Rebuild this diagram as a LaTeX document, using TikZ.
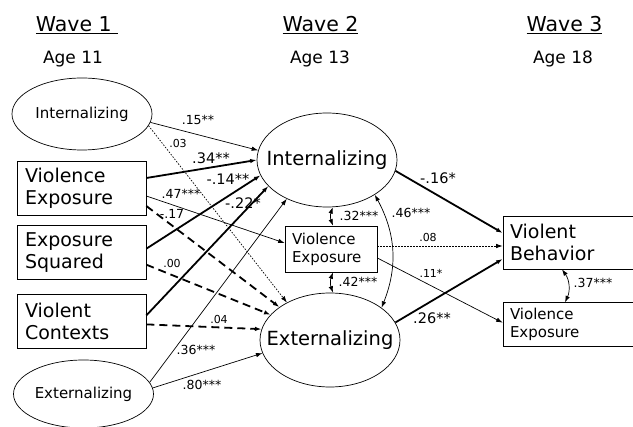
\documentclass[tikz,border=0pt]{standalone}
\usepackage{fontspec}
\setmainfont{DejaVu Sans}
\usetikzlibrary{shapes.geometric, positioning, arrows.meta}

\begin{document}
\begin{tikzpicture}[
      x=1pt, y=-1pt,
      >={Latex[length=6.5pt,width=4.5pt]},
      latent/.style={draw, ellipse, line width=0.7pt, inner ysep=0pt, inner xsep=-16pt, minimum width=140pt},
      observed/.style={draw, rectangle, line width=0.7pt, align=left, inner xsep=7pt, inner ysep=0pt},
      bigtext/.style={font=\fontsize{19}{22}\selectfont},
      smalltext/.style={font=\fontsize{15}{18}\selectfont},
      thinpath/.style={->, line width=0.7pt},
      thickpath/.style={->, line width=1.8pt},
      dashpath/.style={->, line width=1.8pt, dash pattern=on 8pt off 5pt},
      dotpath/.style={->, line width=0.7pt, dash pattern=on 1.5pt off 1.5pt},
      corr/.style={<->, line width=0.7pt},
      coef/.style={font=\fontsize{12.5}{14}\selectfont, inner sep=1pt},
      coefbig/.style={font=\fontsize{14.5}{16}\selectfont, inner sep=1pt},
      coefsmall/.style={font=\fontsize{11}{13}\selectfont, inner sep=1pt},
      wave/.style={font=\fontsize{20.5}{24}\selectfont, anchor=base},
      age/.style={font=\fontsize{17}{20}\selectfont, anchor=base}
    ]
      \path[use as bounding box, fill=white] (0,0) rectangle (633,427);
      \clip (0,0) rectangle (633,427);

      \node[wave] (wave1) at (77,32) {\underline{Wave 1\ }};
      \node[wave] (wave2) at (320.5,32) {\underline{Wave 2}};
      \node[wave] (wave3) at (564.5,32) {\underline{Wave 3}};
      \node[age] (age1) at (73,64) {Age 11};
      \node[age] (age2) at (320,64) {Age 13};
      \node[age] (age3) at (563,64) {Age 18};

      \node[latent, minimum height=72pt, smalltext] (int1) at (82,114) {Internalizing};
      \node[observed, bigtext, text width=113pt, inner xsep=8pt, minimum height=54pt] (ve1) at (81.5,188) {Violence\\Exposure};
      \node[observed, bigtext, text width=113pt, inner xsep=8pt, minimum height=54pt, below=10pt of ve1] (es1) {Exposure\\Squared};
      \node[observed, bigtext, text width=113pt, inner xsep=8pt, minimum height=54pt, below=14pt of es1] (vc1) {Violent\\Contexts};
      \node[latent, minimum height=68pt, smalltext] (ext1) at (83.5,394) {Externalizing};

      \node[latent, minimum height=94pt, font=\fontsize{19.5}{22}\selectfont] (int2) at (327,160) {Internalizing};
      \node[observed, smalltext, text width=78pt, minimum height=46pt] (ve2) at (331,249) {Violence\\Exposure};
      \node[latent, minimum height=94pt, font=\fontsize{19.5}{22}\selectfont] (ext2) at (330,340) {Externalizing};

      \node[observed, bigtext, text width=126pt, minimum height=53pt] (vb) at (573,242.5) {Violent\\Behavior};
      \node[observed, smalltext, text width=126pt, minimum height=44pt, below=33pt of vb] (ve3) {Violence\\Exposure};

      \draw[thinpath] (int1.-7) -- (int2.172);
      \draw[dotpath] (int1.-10) -- (ext2.139);
      \draw[thickpath] ([yshift=10pt]ve1.east) -- (int2.west);
      \draw[thinpath] ([yshift=-8pt]ve1.east) -- ([yshift=6pt]ve2.west);
      \draw[dashpath] ([yshift=-18pt]ve1.east) -- (ext2.147);
      \draw[thickpath] ([yshift=4pt]es1.east) -- (int2.193);
      \draw[dashpath] ([yshift=-12pt]es1.east) -- (ext2.157);
      \draw[thickpath] ([yshift=6pt]vc1.east) -- (int2.204);
      \draw[dashpath] ([yshift=-3pt]vc1.east) -- (ext2.171);
      \draw[thinpath] (ext1.10) -- (int2.224);
      \draw[thinpath] (ext1.5) -- (ext2.191);

      \draw[corr] (int2.-83) to[bend right=20] ([xshift=2pt]ve2.north);
      \draw[corr] ([xshift=2pt]ve2.south) to[bend right=20] ([xshift=3pt]ext2.north);
      \draw[corr] (int2.-36) to[bend left=25] (ext2.32);

      \draw[thickpath] (int2.-9) -- ([yshift=9.5pt]vb.west);
      \draw[dotpath] ([yshift=3pt]ve2.east) -- ([yshift=-3.5pt]vb.west);
      \draw[thinpath] ([yshift=-9pt]ve2.east) -- ([yshift=2pt]ve3.west);
      \draw[thickpath] (ext2.15) -- ([yshift=-16.5pt]vb.west);
      \draw[corr] ([xshift=-11pt]vb.south) to[bend left=30] ([xshift=-8pt]ve3.north);

      \node[coef] (c1) at (198,120) {.15**};
      \node[coefsmall] (c2) at (178,143) {.03};
      \node[coefbig] (c3) at (211,158) {.34**};
      \node[coef] (c4) at (181,194) {.47***};
      \node[coef] (c5) at (172,214) {-.17};
      \node[coefbig] (c6) at (228,179) {-.14**};
      \node[coefbig] (c7) at (243,203) {-.22*};
      \node[coefsmall] (c8) at (172,263) {.00};
      \node[coefsmall] (c9) at (219,319) {.04};
      \node[coef] (c10) at (196,350) {.36***};
      \node[coef] (c11) at (202,385) {.80***};
      \node[coef] (c12) at (359,216) {.32***};
      \node[coef] (c13) at (358,282) {.42***};
      \node[coef] (c14) at (411,213) {.46***};
      \node[coefbig] (c15) at (438,178) {-.16*};
      \node[coefsmall] (c16) at (428,237) {.08};
      \node[coefsmall] (c17) at (431,273) {.11*};
      \node[coefbig] (c18) at (432,318) {.26**};
      \node[coef] (c19) at (593,283) {.37***};
    \end{tikzpicture}
\end{document}
